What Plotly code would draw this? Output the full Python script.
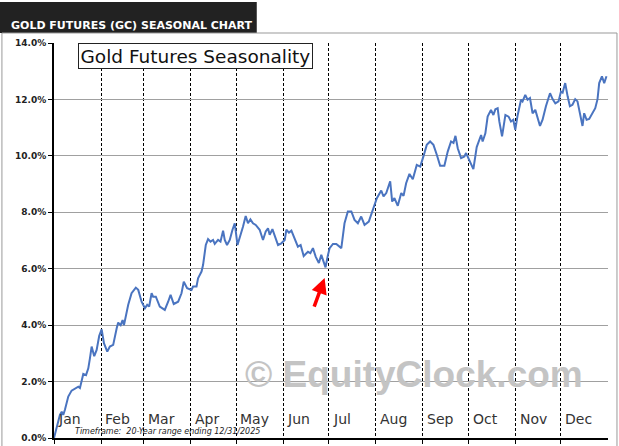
import plotly.graph_objects as go

# day of year (0 = Jan 1) and average seasonal return in %
days = [0, 2.2, 3.9, 5.1, 6.1, 7.2, 9.4, 11.6, 13.8, 16.0, 17.1, 19.3, 21.1, 22.6, 23.7, 24.8,
        26.5, 28.1, 29.8, 31.4, 32.9, 35.1, 36.8, 39.0, 41.3, 42.3, 43.9, 45.2, 46.1, 48.9,
        51.1, 53.9, 55.5, 57.7, 59.9, 61.4, 62.7, 64.3, 65.3, 67.1, 69.7, 73.0, 75.2, 76.8,
        78.9, 81.8, 84.0, 85.5, 87.7, 90.6, 91.6, 93.9, 94.9, 97.2, 98.2, 100.0, 101.5, 103.1,
        104.8, 105.9, 108.1, 109.7, 111.4, 112.5, 114.0, 115.8, 117.6, 119.1, 120.9, 122.8,
        124.5, 126.3, 127.8, 129.4, 131.1, 132.9, 135.5, 137.7, 139.5, 141.0, 142.1, 143.9,
        145.4, 147.6, 149.8, 152.0, 153.1, 154.8, 156.4, 158.6, 160.7, 162.5, 164.5, 167.3,
        168.9, 170.6, 172.4, 174.5, 176.1, 177.6, 178.9, 180.5, 181.6, 183.8, 186.0, 189.3,
        191.4, 193.6, 195.9, 198.0, 200.2, 202.4, 204.6, 207.4, 210.1, 212.7, 215.6, 217.1,
        218.9, 221.5, 222.8, 224.3, 226.5, 228.8, 230.3, 232.0, 234.2, 236.4, 239.0, 241.3,
        243.4, 245.6, 247.8, 250.0, 252.2, 254.4, 257.2, 259.4, 261.6, 263.2, 264.5, 266.0,
        268.2, 270.4, 271.5, 273.7, 276.3, 278.5, 281.4, 282.4, 284.2, 285.7, 287.9, 289.5,
        290.8, 292.3, 293.4, 295.2, 297.4, 299.5, 301.1, 302.6, 303.9, 305.5, 307.7, 308.7,
        310.5, 312.0, 313.6, 315.3, 317.1, 320.2, 321.9, 324.1, 326.8, 328.5, 330.3, 332.4,
        334.0, 335.1, 336.8, 338.4, 339.9, 341.6, 343.4, 344.9, 346.5, 348.2, 349.3, 350.9,
        352.6, 354.8, 356.6, 358.1, 359.2, 361.0, 362.5, 364.0]
returns = [0.0, 0.52, 0.82, 0.93, 0.82, 1.0, 1.47, 1.68, 1.74, 1.82, 1.77, 2.27, 2.23, 2.47, 2.83, 3.24,
           2.9, 3.12, 3.62, 3.85, 3.36, 3.06, 3.24, 3.3, 3.89, 4.09, 4.0, 4.18, 4.0, 4.72,
           5.13, 5.33, 5.25, 4.83, 4.6, 4.72, 4.66, 5.13, 5.01, 5.01, 4.66, 4.54, 4.83, 5.07,
           4.75, 4.83, 5.13, 5.54, 5.31, 5.25, 5.37, 5.37, 5.66, 5.9, 6.13, 6.84, 7.05, 6.96,
           7.02, 6.88, 7.02, 6.96, 7.35, 7.02, 6.84, 7.02, 7.38, 7.61, 6.84, 7.14,
           7.49, 7.87, 7.61, 7.75, 7.61, 7.55, 7.38, 7.02, 7.32, 7.43, 7.2, 7.4,
           7.14, 6.84, 6.9, 7.02, 7.38, 7.28, 7.35, 7.02, 6.78, 6.84, 6.45, 6.6,
           6.55, 6.73, 6.43, 6.2, 6.49, 6.25, 6.05, 6.49, 6.73, 6.88, 6.88, 6.73,
           7.61, 8.03, 8.03, 7.73, 7.61, 7.85, 7.55, 7.67, 8.09, 8.5, 8.77, 8.56,
           8.68, 9.1, 8.38, 8.5, 8.23, 8.68, 8.58, 9.03, 9.36, 9.17, 9.68, 9.62,
           9.98, 10.39, 10.51, 10.39, 10.04, 9.65, 9.65, 10.15, 10.51, 10.46, 10.71, 10.27,
           9.92, 9.98, 10.1, 9.86, 9.53, 10.31, 10.74, 10.51, 10.8, 11.39, 11.63, 11.45,
           11.65, 11.69, 11.22, 10.69, 11.45, 11.39, 11.22, 11.28, 10.92, 11.45, 11.99, 11.93,
           12.16, 11.99, 12.05, 11.51, 11.63, 11.06, 11.28, 11.76, 12.22, 12.01, 11.86, 11.93,
           12.28, 12.24, 12.58, 12.11, 11.76, 11.81, 12.01, 11.93, 11.45, 11.06, 11.51, 11.28,
           11.31, 11.51, 11.69, 12.01, 12.58, 12.82, 12.58, 12.82]

months = ["Jan", "Feb", "Mar", "Apr", "May", "Jun", "Jul", "Aug", "Sep", "Oct", "Nov", "Dec"]
month_start = [0, 31, 59, 90, 120, 151, 181, 212, 243, 273, 304, 334]
y_ticks = [0, 2, 4, 6, 8, 10, 12, 14]
y_labels = ["%.1f%%" % v for v in y_ticks]

arrow_day = 178.3
arrow_val = 5.67

fig = go.Figure()
fig.add_trace(go.Scatter(x=days, y=returns, mode="lines",
                         line=dict(color="#4a74c0", width=2), showlegend=False))

# month names sit inside the plot, just right of each month line
for m, d in zip(months, month_start):
    fig.add_annotation(x=d + 1.5, y=0, yshift=9, text=m, showarrow=False, xanchor="left", yanchor="bottom",
                       font=dict(family="DejaVu Sans", size=14, color="#333"))

fig.add_annotation(x=arrow_day, y=arrow_val, text="", showarrow=True, ax=-11, ay=30,
                   arrowcolor="#ff0000", arrowwidth=3.5, arrowhead=2, arrowsize=0.9)

fig.add_annotation(xref="paper", yref="paper", x=0.043, y=0.999, xanchor="left", yanchor="top",
                   text="Gold Futures Seasonality", showarrow=False, bgcolor="white",
                   bordercolor="#222", borderwidth=1, borderpad=1.5,
                   font=dict(family="DejaVu Sans", size=18.5, color="#111"))

fig.add_annotation(xref="paper", yref="paper", x=0.65, y=0.16, xanchor="center", yanchor="middle",
                   text="© EquityClock.com", showarrow=False,
                   font=dict(family="Liberation Sans", size=37, color="#c4c4c4", weight="bold"))

fig.add_annotation(xref="paper", yref="paper", x=0.034, y=0.0, yshift=0, xanchor="left", yanchor="bottom",
                   text="<i>Timeframe:  20-Year range ending 12/31/2025</i>",
                   showarrow=False, font=dict(family="DejaVu Sans", size=8, color="#222"))

# dark header strip and outer frame
fig.add_shape(type="rect", xref="paper", yref="paper", x0=-0.0975, x1=0.366, y0=1.0253, y1=1.104,
              fillcolor="#222", line=dict(width=0), layer="below")
fig.add_annotation(xref="paper", yref="paper", x=-0.082, y=1.065, xanchor="left", text="<b>GOLD FUTURES (GC) SEASONAL CHART</b>",
                   showarrow=False, font=dict(family="DejaVu Sans", size=11, color="white"))
fig.add_shape(type="rect", xref="paper", yref="paper", x0=-0.094, x1=1.0162, y0=-0.03, y1=1.0253,
              line=dict(color="#999", width=1), layer="below")

fig.update_xaxes(range=[0, 365], tickvals=month_start, showticklabels=False, ticks="outside", ticklen=4,
                 tickcolor="black", showline=True, linecolor="black", linewidth=2, automargin=False,
                 showgrid=True, gridcolor="black", gridwidth=1, griddash="3px,2px", zeroline=False)
fig.update_yaxes(range=[0, 14], tickvals=y_ticks, ticktext=y_labels, ticks="outside", ticklen=4,
                 tickcolor="black", showline=True, linecolor="black", linewidth=2, automargin=False,
                 showgrid=True, gridcolor="#a0a0a0", gridwidth=1, zeroline=False,
                 tickfont=dict(family="DejaVu Sans", size=9, color="#222", weight="bold"))

fig.update_layout(width=619, height=446, margin=dict(l=54, r=11, t=43, b=8),
                  plot_bgcolor="white", paper_bgcolor="white")

# drop the page's default body margin and scrollbars so the figure fills the window
fig.write_html("out.html", config={"displayModeBar": False},
               post_script="document.body.style.margin='0';document.body.style.overflow='hidden';")
